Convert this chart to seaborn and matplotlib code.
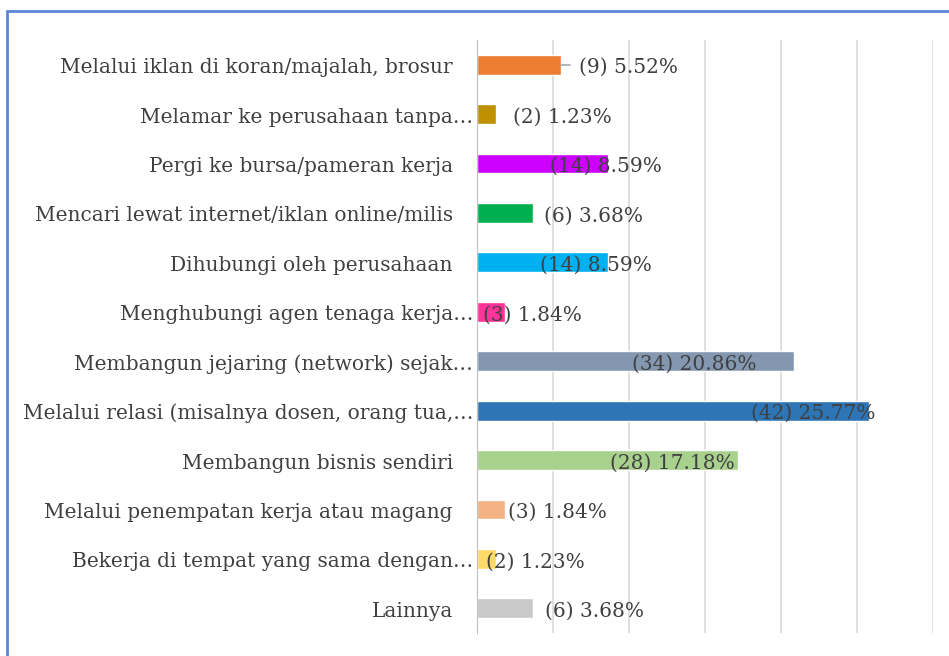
import matplotlib
matplotlib.use('Agg')
import matplotlib.pyplot as plt
import matplotlib.patches as mpatches
import numpy as np
import pandas as pd
import seaborn as sns

# data
kategori = ['Melalui iklan di koran/majalah, brosur',
            'Melamar ke perusahaan tanpa…',
            'Pergi ke bursa/pameran kerja',
            'Mencari lewat internet/iklan online/milis',
            'Dihubungi oleh perusahaan',
            'Menghubungi agen tenaga kerja…',
            'Membangun jejaring (network) sejak…',
            'Melalui relasi (misalnya dosen, orang tua,…',
            'Membangun bisnis sendiri',
            'Melalui penempatan kerja atau magang',
            'Bekerja di tempat yang sama dengan…',
            'Lainnya']
jumlah = [9, 2, 14, 6, 14, 3, 34, 42, 28, 3, 2, 6]
persen = [5.52, 1.23, 8.59, 3.68, 8.59, 1.84, 20.86, 25.77, 17.18, 1.84, 1.23, 3.68]

warna = ['#ED7D31', '#BF9000', '#CC00FF', '#00B050', '#00B0F0', '#FF3399',
         '#8497B0', '#2E75B6', '#A9D18E', '#F4B183', '#FFD966', '#C9C9C9']
# where excel left the data labels (left edge, in % units)
label_x = [6.69, 2.36, 4.8, 4.41, 4.14, 0.39, 10.2, 18.03, 8.75, 2.06, 0.59, 4.48]

df = pd.DataFrame({'kategori': kategori, 'persen': persen})

sns.set_style('white')
plt.rcParams['font.family'] = ['DejaVu Serif']
txt_col = '#404040'
fs = 14.5

fig = plt.figure(figsize=(9.49, 6.56), dpi=100)
ax = fig.add_axes([477/949, 1-633/656, (933-477)/949, (633-40)/656])

sns.barplot(data=df, y='kategori', x='persen', hue='kategori', palette=warna,
            legend=False, width=0.4, orient='h', ax=ax, saturation=1)

ax.set_xlim(0, 30)
ax.set_ylim(len(kategori)-0.5, -0.5)
ax.set_xticks(np.arange(0, 31, 5))
ax.set_xticklabels([])
ax.tick_params(axis='x', length=0)
ax.grid(axis='x', color='#D9D9D9', lw=1.2)
ax.set_axisbelow(True)
ax.set_xlabel('')
ax.set_ylabel('')
for s in ['top', 'right', 'bottom']:
    ax.spines[s].set_visible(False)
ax.spines['left'].set_color('#BFBFBF')
ax.spines['left'].set_zorder(3)

# ticks between categories
ax.set_yticks(range(len(kategori)))
ax.set_yticklabels([])
ax.tick_params(axis='y', which='major', length=0)
ax.set_yticks(np.arange(-0.5, len(kategori), 1), minor=True)
ax.tick_params(axis='y', which='minor', length=6, color='#BFBFBF', width=1)

# category labels
for i, k in enumerate(kategori):
    off = -4 if k.endswith('…') else -24
    ax.annotate(k, xy=(0, i), xycoords=ax.get_yaxis_transform(),
                xytext=(off, -3), textcoords='offset pixels',
                ha='right', va='center', fontsize=fs, color=txt_col)

# data labels
for i in range(len(kategori)):
    ax.annotate(f'({jumlah[i]}) {persen[i]:.2f}%', xy=(label_x[i], i),
                xytext=(0, -3), textcoords='offset pixels', ha='left',
                va='center', fontsize=fs, color=txt_col, zorder=5)
# leader line for the first label
ax.plot([persen[0], label_x[0] - 0.55], [0, 0], color='#A6A6A6', lw=1.2, zorder=4)

# blue frame
fig.patches.append(mpatches.Rectangle((7/949, -0.1), 1.2, 1.1 - 11/656,
                                      transform=fig.transFigure, fill=False,
                                      edgecolor='#5B87D6', lw=2))

fig.savefig('out.png', dpi=100)
